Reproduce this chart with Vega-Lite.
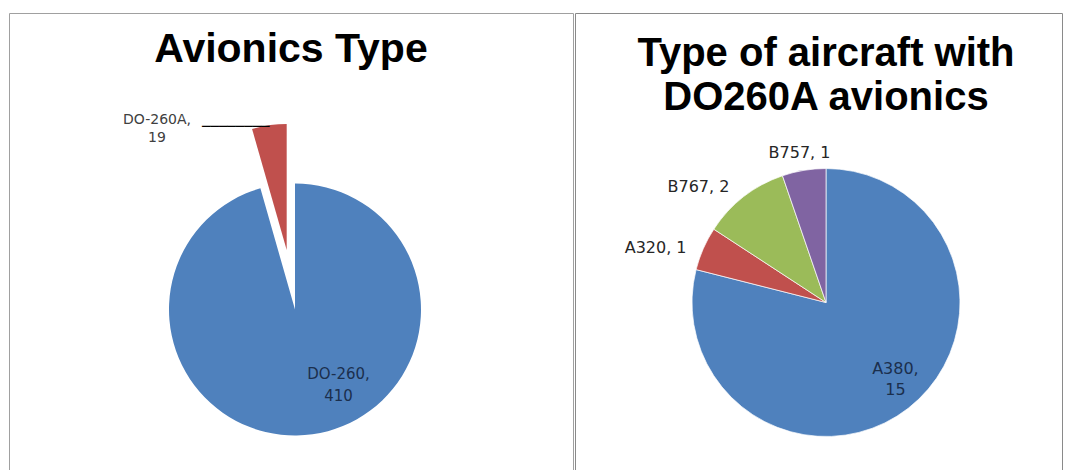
{
  "$schema": "https://vega.github.io/schema/vega-lite/v6.json",
  "background": "white",
  "padding": {"left": 8, "top": 12, "right": 0, "bottom": 0},
  "spacing": 0,
  "resolve": {"scale": {"color": "independent", "theta": "independent"}},
  "config": {
    "view": {"stroke": "#9c9c9c", "strokeWidth": 1},
    "title": {"font": "Liberation Sans", "fontSize": 40, "fontWeight": "bold", "color": "#000000", "anchor": "middle", "frame": "group", "baseline": "alphabetic"}
  },
  "datasets": {
    "avionics": [
      {"type": "DO-260", "count": 410},
      {"type": "DO-260A", "count": 19}
    ],
    "aircraft": [
      {"type": "A380", "count": 15},
      {"type": "A320", "count": 1},
      {"type": "B767", "count": 2},
      {"type": "B757", "count": 1}
    ]
  },
  "hconcat": [
    {
      "width": 564,
      "height": 593,
      "view": {"stroke": "#a0a0a0", "strokeWidth": 1},
      "title": {"text": "Avionics Type", "offset": -57.8, "fontSize": 41},
      "data": {"name": "avionics"},
      "transform": [
        {"window": [{"op": "row_number", "as": "idx"}]},
        {"calculate": "[datum.type + ',', '' + datum.count]", "as": "label"}
      ],
      "encoding": {
        "theta": {"field": "count", "type": "quantitative", "stack": true},
        "order": {"field": "idx", "type": "quantitative"},
        "detail": {"field": "type", "type": "nominal"}
      },
      "layer": [
        {
          "mark": {"type": "arc", "radius": 126, "xOffset": 4},
          "encoding": {
            "color": {"field": "type", "type": "nominal", "scale": {"domain": ["DO-260", "DO-260A"], "range": ["#4F81BD", "#C0504D"]}, "legend": null},
            "opacity": {"condition": {"test": "datum.type === 'DO-260'", "value": 1}, "value": 0}
          }
        },
        {
          "mark": {"type": "arc", "radius": 126, "xOffset": -4.3, "yOffset": -59.4},
          "encoding": {
            "color": {"field": "type", "type": "nominal", "scale": {"domain": ["DO-260", "DO-260A"], "range": ["#4F81BD", "#C0504D"]}, "legend": null},
            "opacity": {"condition": {"test": "datum.type === 'DO-260A'", "value": 1}, "value": 0}
          }
        },
        {
          "mark": {"type": "text", "radius": 124, "xOffset": -4.3, "yOffset": -59.4, "align": "right", "baseline": "middle", "font": "DejaVu Sans", "fontSize": 14, "fontWeight": "bold", "color": "#000000"},
          "encoding": {
            "text": {"condition": {"test": "datum.type === 'DO-260A'", "value": "────────"}, "value": ""}
          }
        },
        {
          "mark": {"type": "text", "radius": 124, "xOffset": -4.3, "yOffset": -59.4, "dx": -112.5, "dy": -7, "align": "center", "baseline": "middle", "lineHeight": 18, "font": "DejaVu Sans", "fontSize": 14, "color": "#404040"},
          "encoding": {
            "text": {"condition": {"test": "datum.type === 'DO-260A'", "field": "label"}, "value": ""}
          }
        },
        {
          "mark": {"type": "text", "radius": 76, "xOffset": 4, "dx": 33, "dy": -11, "align": "center", "baseline": "middle", "lineHeight": 22, "font": "DejaVu Sans", "fontSize": 15, "color": "#1b2f4d"},
          "encoding": {
            "text": {"condition": {"test": "datum.type === 'DO-260'", "field": "label"}, "value": ""}
          }
        }
      ]
    },
    {
      "width": 487,
      "height": 593,
      "view": {"stroke": "#8a8a8a", "strokeWidth": 1},
      "title": {"text": ["Type of aircraft with", "DO260A avionics"], "offset": -104.5, "lineHeight": 44, "dx": 7.5},
      "data": {"name": "aircraft"},
      "transform": [
        {"window": [{"op": "row_number", "as": "idx"}]},
        {"calculate": "datum.type + ', ' + datum.count", "as": "label"},
        {"calculate": "[datum.type + ',', '' + datum.count]", "as": "label2"}
      ],
      "encoding": {
        "theta": {"field": "count", "type": "quantitative", "stack": true},
        "order": {"field": "idx", "type": "quantitative"},
        "detail": {"field": "type", "type": "nominal"}
      },
      "layer": [
        {
          "mark": {"type": "arc", "radius": 134, "xOffset": 7.5, "yOffset": -7, "stroke": "#ffffff", "strokeWidth": 0.7},
          "encoding": {
            "color": {"field": "type", "type": "nominal", "scale": {"domain": ["A380", "A320", "B767", "B757"], "range": ["#4F81BD", "#C0504D", "#9BBB59", "#8064A2"]}, "legend": null}
          }
        },
        {
          "mark": {"type": "text", "radius": 100, "xOffset": 7.5, "yOffset": -7, "dx": 8, "dy": -12, "align": "center", "baseline": "middle", "lineHeight": 21, "font": "DejaVu Sans", "fontSize": 16, "color": "#1b2f4d"},
          "encoding": {
            "text": {"condition": {"test": "datum.type === 'A380'", "field": "label2"}, "value": ""}
          }
        },
        {
          "mark": {"type": "text", "radius": 150, "xOffset": 7.5, "yOffset": -7, "dx": -33, "dy": 6, "align": "center", "baseline": "middle", "font": "DejaVu Sans", "fontSize": 16, "color": "#262626"},
          "encoding": {
            "text": {"condition": {"test": "datum.type === 'A320'", "field": "label"}, "value": ""}
          }
        },
        {
          "mark": {"type": "text", "radius": 150, "xOffset": 7.5, "yOffset": -7, "dx": -35.4, "dy": 2.4, "align": "center", "baseline": "middle", "font": "DejaVu Sans", "fontSize": 16, "color": "#262626"},
          "encoding": {
            "text": {"condition": {"test": "datum.type === 'B767'", "field": "label"}, "value": ""}
          }
        },
        {
          "mark": {"type": "text", "radius": 150, "xOffset": 7.5, "yOffset": -7, "dx": -1.8, "dy": -1.1, "align": "center", "baseline": "middle", "font": "DejaVu Sans", "fontSize": 16, "color": "#262626"},
          "encoding": {
            "text": {"condition": {"test": "datum.type === 'B757'", "field": "label"}, "value": ""}
          }
        }
      ]
    }
  ]
}
